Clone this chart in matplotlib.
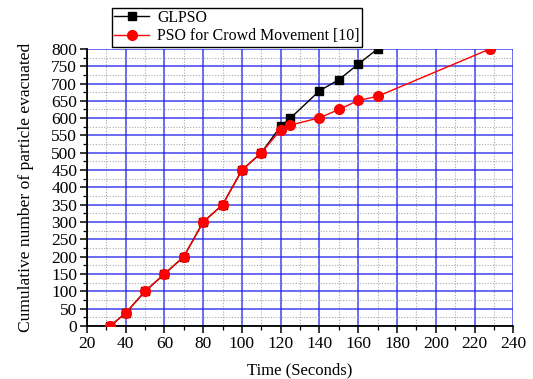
import numpy as np
import matplotlib
matplotlib.use("Agg")
import matplotlib.pyplot as plt
from matplotlib.ticker import MultipleLocator

plt.rcParams["font.family"] = "Liberation Serif"

# data
glpso_t = [32, 40, 50, 60, 70, 80, 90, 100, 110, 120, 125, 140, 150, 160, 170]
glpso_n = [0, 37, 100, 150, 200, 300, 350, 450, 500, 577, 600, 679, 711, 756, 800]

crowd_t = [32, 40, 50, 60, 70, 80, 90, 100, 110, 120, 125, 140, 150, 160, 170, 228]
crowd_n = [0, 37, 100, 150, 200, 300, 350, 450, 500, 566, 580, 601, 625, 651, 663, 800]

labels = ["GLPSO", "PSO for Crowd Movement [10]"]

fig = plt.figure(figsize=(5.33, 3.79), dpi=100)
ax = fig.add_axes([0.163, 0.140, 0.800, 0.731])

ax.plot(glpso_t, glpso_n, color="black", lw=1, marker="s", ms=5.5,
        mfc="black", mec="black", label=labels[0], zorder=3)
ax.plot(crowd_t, crowd_n, color="red", lw=1, marker="o", ms=7,
        mfc="red", mec="red", label=labels[1], zorder=4)

ax.set_xlim(20, 240)
ax.set_ylim(0, 800)
ax.xaxis.set_major_locator(MultipleLocator(20))
ax.xaxis.set_minor_locator(MultipleLocator(10))
ax.yaxis.set_major_locator(MultipleLocator(50))
ax.yaxis.set_minor_locator(MultipleLocator(25))

ax.grid(which="major", color="#2222ee", lw=1.1, alpha=0.85, zorder=1)
ax.grid(which="minor", color="#aaaaaa", lw=0.8, ls=(0, (1, 1.5)), zorder=0)
ax.set_axisbelow(True)

for s in ["top", "right"]:
    ax.spines[s].set_visible(False)
for s in ["left", "bottom"]:
    ax.spines[s].set_linewidth(1.3)

ax.tick_params(which="major", direction="out", length=5, width=1.1, labelsize=12.5, pad=2)
ax.tick_params(which="minor", direction="out", length=3, width=0.9)

ax.set_xlabel("Time (Seconds)", fontsize=12, labelpad=8)
ax.set_ylabel("Cumulative number of particle evacuated", fontsize=12.6, labelpad=12)

leg = ax.legend(loc="upper left", bbox_to_anchor=(0.21, 0.98), bbox_transform=fig.transFigure,
                fancybox=False, edgecolor="black", framealpha=1, fontsize=11.4,
                borderpad=0.15, labelspacing=0.15, handlelength=2.2, handletextpad=0.5,
                borderaxespad=0)
leg.get_frame().set_linewidth(1.0)

fig.savefig("out.png", dpi=100)
